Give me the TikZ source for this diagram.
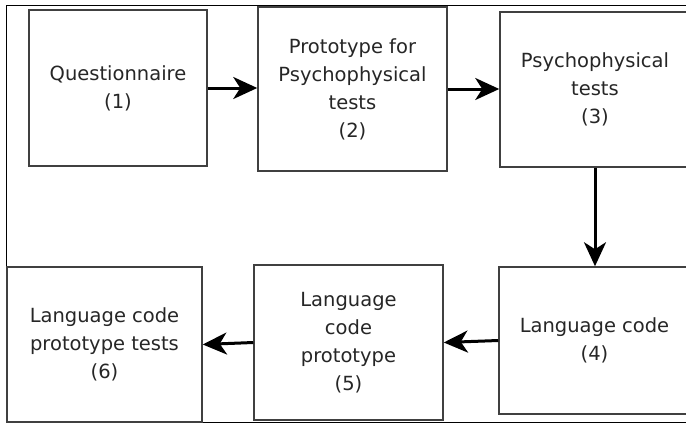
\documentclass[tikz,border=0pt]{standalone}
\usepackage{fontspec}
\setmainfont{DejaVu Sans}
\usetikzlibrary{arrows.meta}
\begin{document}
\begin{tikzpicture}[x=1pt,y=-1pt,
  box/.style={draw=black!75,line width=1.5pt,fill=white,align=center,inner sep=0pt,
    font=\fontsize{19.5}{28}\selectfont,text=black!85},
  flow/.style={line width=3pt,-{Stealth[length=24pt,width=22pt,inset=7pt]}}]
\useasboundingbox (0,0) rectangle (686,424);
\clip (0,0) rectangle (686,424);
\draw[line width=1pt] (6,422) -- (6,5) -- (690,5);
\draw[line width=1pt] (6,422) -- (690,422);
% top row
\node[box,minimum width=178pt,minimum height=156pt] (quest) at (118,88) {Questionnaire\\(1)};
\node[box,minimum width=189pt,minimum height=164pt] (proto) at (352.5,89) {Prototype for\\Psychophysical\\tests\\(2)};
\node[box,minimum width=190pt,minimum height=155pt] (psych) at (595,89.5) {Psychophysical\\tests\\(3)};
% bottom row
\node[box,minimum width=191pt,minimum height=147pt] (lang) at (594.5,340.5) {Language code\\(4)};
\node[box,minimum width=189pt,minimum height=155pt] (langproto) at (348.5,342.5) {Language\\code\\prototype\\(5)};
\node[box,minimum width=195pt,minimum height=155pt] (langtests) at (104.5,344.5) {Language code\\prototype tests\\(6)};
% arrows
\draw[flow] (quest.east) -- (quest.east -| proto.west);
\draw[flow] (proto.east) -- (proto.east -| psych.west);
\draw[flow] (psych.south) -- (psych.south |- lang.north);
\draw[flow] (lang.west) -- (langproto.east);
\draw[flow] (langproto.west) -- (langtests.east);
\end{tikzpicture}
\end{document}
